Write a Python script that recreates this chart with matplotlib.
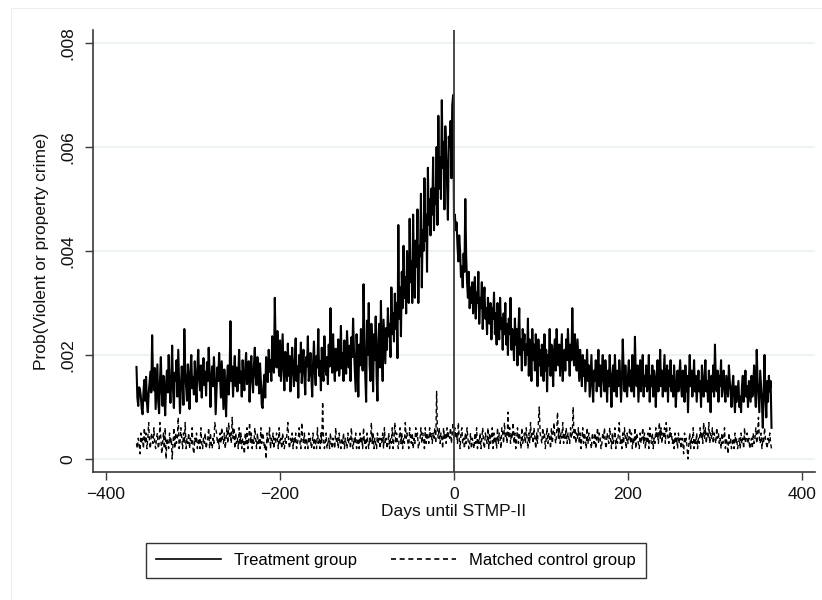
import numpy as np
import matplotlib.pyplot as plt
from matplotlib.patches import Rectangle

plt.rcParams['font.family'] = ['Liberation Sans', 'DejaVu Sans']

# Days relative to STMP-II
days = np.arange(-365, 366)

# Treatment group, daily probability in units of 1e-5
treatment = [
    177, 118, 102, 138, 134, 120, 96, 86, 128, 152, 112, 158, 108, 90, 126, 146, 168, 128, 238, 150,
    132, 175, 96, 140, 182, 110, 88, 150, 196, 130, 102, 160, 118, 84, 145, 170, 128, 200, 142, 108,
    155, 218, 132, 98, 166, 150, 190, 120, 210, 146, 88, 132, 178, 156, 104, 250, 168, 140, 112, 182,
    150, 96, 172, 200, 136, 158, 124, 188, 146, 110, 176, 210, 154, 132, 180, 118, 160, 194, 142, 168,
    122, 186, 150, 214, 168, 100, 152, 178, 140, 196, 158, 86, 134, 176, 150, 204, 162, 118, 188, 142,
    96, 172, 130, 82, 150, 180, 124, 160, 265, 150, 178, 120, 166, 198, 140, 176, 130, 158, 210, 146,
    168, 120, 190, 150, 132, 176, 204, 144, 162, 188, 110, 170, 198, 150, 128, 180, 214, 160, 142, 196,
    172, 126, 184, 150, 104, 98, 140, 162, 118, 196, 176, 148, 210, 168, 190, 150, 236, 180, 166, 310,
    212, 176, 246, 190, 160, 228, 150, 198, 240, 170, 132, 206, 184, 150, 222, 160, 198, 130, 176, 214,
    166, 140, 190, 232, 150, 178, 118, 200, 168, 224, 146, 186, 210, 160, 124, 196, 178, 236, 150, 170,
    204, 158, 120, 186, 226, 168, 142, 198, 176, 250, 160, 188, 132, 214, 170, 150, 236, 184, 162, 196,
    144, 220, 178, 290, 200, 166, 240, 182, 150, 212, 170, 196, 230, 160, 186, 256, 174, 204, 150, 228,
    190, 164, 246, 206, 176, 218, 150, 234, 196, 270, 210, 170, 130, 240, 196, 120, 220, 180, 250, 204,
    170, 336, 230, 160, 110, 266, 200, 300, 180, 150, 260, 214, 130, 240, 190, 274, 160, 112, 230, 260,
    176, 304, 200, 150, 268, 226, 184, 252, 210, 290, 236, 260, 196, 330, 240, 280, 226, 318, 250, 300,
    194, 450, 270, 330, 236, 360, 290, 410, 310, 350, 280, 400, 330, 300, 462, 340, 380, 300, 470, 360,
    310, 420, 370, 480, 300, 410, 390, 510, 330, 440, 400, 540, 420, 470, 360, 560, 450, 500, 430, 520,
    470, 580, 440, 520, 490, 600, 450, 660, 520, 580, 500, 690, 560, 610, 480, 640, 590, 530, 460, 620,
    600, 650, 540, 680, 700, 460,
    470, 440, 455, 410, 380, 430, 400, 350, 370, 330, 395, 360, 500, 390, 340, 310, 360, 290, 330, 300,
    340, 280, 310, 350, 270, 320, 300, 360, 260, 310, 290, 340, 250, 300, 330, 270, 290, 240, 310, 280,
    260, 300, 230, 290, 270, 320, 240, 280, 220, 300, 260, 230, 310, 250, 270, 210, 280, 240, 300, 220,
    260, 200, 270, 240, 310, 210, 250, 230, 190, 270, 220, 250, 180, 240, 290, 200, 230, 170, 250, 210,
    240, 180, 220, 200, 270, 160, 230, 210, 150, 250, 190, 220, 170, 240, 200, 140, 230, 180, 210, 160,
    220, 190, 150, 240, 170, 210, 130, 200, 180, 250, 160, 220, 190, 140, 210, 230, 170, 250, 200, 180,
    220, 160, 200, 240, 150, 190, 210, 170, 230, 190, 250, 200, 160, 220, 190, 290, 210, 180, 240, 200,
    170, 230, 190, 150, 210, 180, 140, 200, 160, 190, 130, 170, 210, 150, 180, 120, 160, 200, 140, 110,
    170, 150, 190, 130, 160, 210, 140, 180, 120, 170, 200, 150, 130, 190, 160, 110, 170, 140, 200, 150,
    100, 160, 180, 130, 200, 150, 120, 170, 140, 190, 160, 110, 150, 230, 170, 130, 180, 140, 120, 160,
    190, 140, 170, 130, 200, 150, 120, 235, 160, 140, 180, 110, 150, 190, 130, 170, 200, 120, 160, 140,
    180, 130, 150, 200, 110, 160, 140, 180, 120, 170, 150, 100, 160, 190, 130, 150, 210, 140, 170, 120,
    160, 200, 130, 150, 180, 110, 170, 140, 190, 130, 160, 120, 180, 150, 100, 140, 170, 130, 160, 190,
    140, 120, 170, 150, 110, 180, 130, 160, 90, 150, 200, 140, 170, 120, 150, 190, 130, 160, 110, 140,
    170, 130, 150, 100, 180, 140, 120, 160, 190, 130, 150, 110, 170, 140, 90, 160, 130, 180, 120, 220,
    150, 130, 170, 110, 160, 140, 190, 120, 150, 170, 130, 110, 160, 140, 120, 180, 150, 130, 100, 140,
    160, 120, 90, 140, 110, 130, 150, 100, 120, 90, 140, 160, 110, 130, 170, 120, 140, 100, 150, 130,
    110, 160, 120, 140, 180, 130, 100, 210, 150, 120, 90, 170, 140, 110, 60, 130, 200, 120, 80, 150,
    110, 160, 130, 150, 60,
]

# Matched control group, daily probability in units of 1e-4
control = [
    3, 2, 4, 3, 1, 5, 3, 4, 2, 6, 3, 5, 2, 4, 7, 3, 2, 5, 4, 3,
    6, 3, 2, 4, 5, 2, 3, 7, 4, 1, 3, 5, 2, 6, 0, 4, 3, 2, 5, 3,
    4, 0, 3, 6, 2, 5, 3, 4, 8, 2, 3, 6, 4, 2, 5, 3, 7, 2, 4, 3,
    5, 2, 4, 3, 6, 2, 1, 4, 3, 5, 2, 3, 4, 2, 6, 3, 2, 4, 3, 5,
    2, 3, 4, 6, 2, 5, 3, 2, 4, 3, 7, 6, 5, 3, 4, 2, 5, 3, 6, 4,
    3, 5, 2, 4, 6, 3, 7, 4, 5, 3, 8, 4, 6, 2, 5, 3, 4, 2, 6, 3,
    5, 2, 4, 3, 1, 5, 3, 6, 2, 4, 7, 3, 5, 2, 4, 3, 6, 4, 2, 5,
    3, 4, 2, 6, 3, 5, 4, 2, 3, 0, 5, 3, 4, 6, 2, 4, 3, 5, 2, 4,
    3, 5, 4, 2, 6, 3, 4, 2, 5, 3, 2, 4, 3, 5, 7, 3, 2, 4, 3, 5,
    2, 4, 3, 5, 2, 3, 4, 6, 3, 2, 7, 4, 3, 5, 2, 4, 3, 2, 5, 3,
    4, 2, 3, 5, 2, 4, 3, 2, 6, 3, 4, 2, 5, 3, 11, 4, 2, 3, 5, 2,
    3, 4, 2, 5, 3, 2, 4, 3, 2, 6, 3, 4, 2, 5, 3, 2, 4, 3, 5, 2,
    4, 3, 2, 5, 3, 4, 2, 6, 3, 2, 4, 3, 5, 2, 3, 4, 2, 5, 3, 4,
    2, 6, 3, 4, 2, 5, 3, 2, 4, 3, 7, 3, 5, 2, 4, 3, 2, 5, 3, 4,
    2, 4, 3, 5, 2, 6, 3, 4, 2, 3, 5, 2, 4, 3, 6, 2, 4, 7, 3, 5,
    3, 2, 4, 6, 3, 5, 2, 4, 3, 7, 4, 5, 3, 2, 6, 4, 3, 5, 2, 4,
    3, 6, 4, 5, 2, 3, 4, 6, 3, 5, 4, 2, 6, 3, 5, 4, 3, 6, 4, 5,
    3, 5, 4, 6, 3, 13, 5, 4, 6, 3, 5, 4, 2, 6, 4, 5, 3, 6, 4, 5,
    4, 6, 3, 5, 7, 4,
    6, 4, 5, 3, 7, 4, 2, 5, 6, 3, 4, 2, 5, 3, 6, 4, 2, 3, 5, 2,
    4, 3, 2, 5, 3, 6, 2, 4, 3, 5, 2, 4, 6, 3, 2, 5, 4, 3, 6, 2,
    5, 3, 4, 6, 2, 5, 3, 4, 2, 6, 3, 5, 4, 2, 6, 5, 3, 7, 4, 5,
    3, 9, 4, 6, 3, 5, 4, 7, 3, 5, 2, 4, 6, 3, 5, 4, 2, 6, 3, 4,
    5, 3, 6, 4, 2, 5, 3, 7, 4, 5, 3, 6, 4, 2, 5, 3, 7, 10, 5, 4,
    3, 6, 4, 5, 2, 4, 6, 3, 5, 4, 2, 6, 3, 5, 7, 4, 3, 5, 9, 4,
    6, 3, 5, 4, 7, 3, 5, 4, 6, 3, 5, 4, 3, 6, 4, 5, 10, 4, 6, 3,
    5, 4, 6, 3, 5, 2, 4, 6, 3, 5, 4, 2, 6, 3, 5, 4, 3, 2, 5, 4,
    3, 5, 2, 4, 6, 3, 5, 4, 2, 3, 5, 4, 6, 3, 2, 5, 4, 3, 6, 4,
    2, 5, 3, 4, 6, 2, 4, 3, 5, 7, 3, 4, 2, 5, 3, 6, 4, 2, 5, 3,
    4, 6, 3, 5, 2, 4, 3, 6, 2, 5, 4, 3, 2, 5, 3, 4, 6, 3, 5, 2,
    4, 3, 5, 2, 6, 4, 3, 5, 2, 4, 3, 6, 4, 5, 3, 7, 4, 6, 3, 5,
    4, 6, 3, 7, 5, 4, 3, 6, 4, 5, 3, 4, 2, 5, 3, 4, 2, 5, 3, 4,
    2, 4, 3, 1, 5, 3, 4, 2, 0, 3, 5, 2, 4, 3, 6, 2, 4, 3, 5, 2,
    4, 3, 6, 4, 5, 3, 7, 4, 6, 3, 5, 4, 7, 3, 5, 4, 6, 3, 5, 4,
    3, 6, 4, 5, 3, 4, 2, 5, 3, 4, 6, 2, 4, 3, 1, 5, 3, 4, 2, 3,
    4, 2, 5, 3, 4, 2, 3, 4, 2, 5, 3, 4, 2, 6, 3, 4, 5, 3, 4, 2,
    3, 4, 2, 5, 3, 4, 6, 3, 5, 8, 4, 3, 5, 2, 4, 3, 6, 4, 3, 2,
    4, 3, 5, 3, 2,
]

yticks = [0, 0.002, 0.004, 0.006, 0.008]
ytick_labels = ["0", ".002", ".004", ".006", ".008"]
xticks = [-400, -200, 0, 200, 400]

treat_p = np.array(treatment) * 1e-5
ctrl_p = np.array(control) * 1e-4

fig = plt.figure(figsize=(8.22, 6.0), dpi=100)
fig.patches.append(Rectangle((11 / 822, 0), 1.0, 592 / 600, transform=fig.transFigure,
                             fill=False, edgecolor='#eeeeee', lw=0.8))
ax = fig.add_axes([93 / 822, 128 / 600, 722 / 822, 442 / 600])

spine_col = '#3a3a3a'
for y in yticks:
    ax.axhline(y, color='#e8f0f1', lw=1.1, zorder=0)

ax.plot(days, treat_p, color='black', lw=1.5, label='Treatment group', zorder=3)
ax.plot(days, ctrl_p, color='black', lw=1.0, dashes=(3, 2.2),
        label='Matched control group', zorder=2)
ax.axvline(0, color=spine_col, lw=1.3, zorder=4)

ax.set_xlim(-415, 415)
ax.set_ylim(-0.00025, 0.00825)
ax.set_xticks(xticks)
ax.set_yticks(yticks)
ax.set_yticklabels(ytick_labels, rotation=90, va='center')

for side in ['top', 'right']:
    ax.spines[side].set_visible(False)
for side in ['left', 'bottom']:
    ax.spines[side].set_color(spine_col)
    ax.spines[side].set_linewidth(1.2)

ax.tick_params(axis='both', direction='out', length=6, width=1.0, color=spine_col,
               labelsize=12.5, labelcolor='#111111')
ax.tick_params(axis='y', pad=7)
ax.tick_params(axis='x', pad=5)

ax.set_xlabel("Days until STMP-II", fontsize=12.5, color='#111111', labelpad=1)
ax.set_ylabel("Prob(Violent or property crime)", fontsize=12.5, color='#111111', labelpad=8)

leg = fig.legend(loc='center', bbox_to_anchor=(396 / 822, 40 / 600), ncol=2,
                 fontsize=12, frameon=True, fancybox=False, handlelength=3.9,
                 handletextpad=0.8, columnspacing=2.0, borderpad=0.6,
                 borderaxespad=0)
leg.get_frame().set_edgecolor('black')
leg.get_frame().set_linewidth(1.0)
for line in leg.get_lines():
    line.set_linewidth(1.2)

fig.savefig("out.png", dpi=100, facecolor='white')
